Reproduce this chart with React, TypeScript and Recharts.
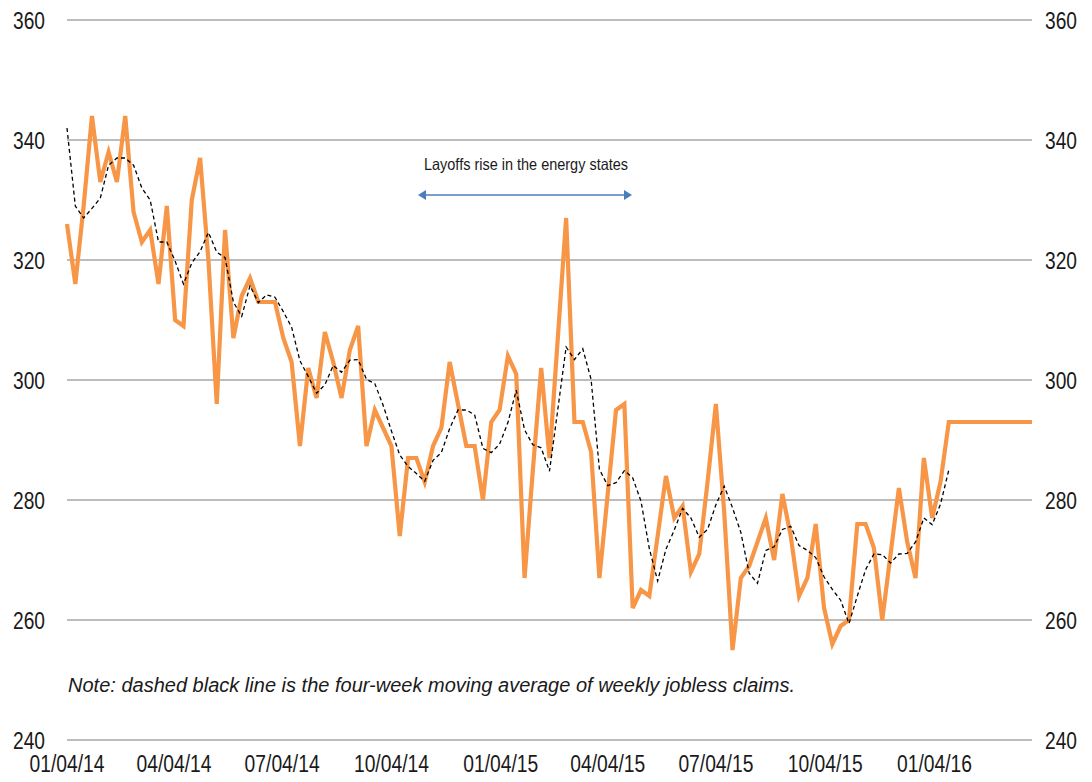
import React from 'react';
import { LineChart, Line, XAxis, YAxis, CartesianGrid } from 'recharts';

// quarterly date ticks, mm/dd/yy
const tickLabels = [
  '01/04/14', '04/04/14', '07/04/14', '10/04/14',
  '01/04/15', '04/04/15', '07/04/15', '10/04/15', '01/04/16',
];
const yTicks = [240, 260, 280, 300, 320, 340, 360];

// weekly initial jobless claims (thousands), week ending 01/04/14 onward
const claims = [
  326, 316, 329, 344, 333, 338, 333, 344, 328, 323,
  325, 316, 329, 310, 309, 330, 337, 320, 296, 325,
  307, 314, 317, 313, 313, 313, 307, 303, 289, 302,
  297, 308, 303, 297, 305, 309, 289, 295, 292, 289,
  274, 287, 287, 283, 289, 292, 303, 296, 289, 289,
  280, 293, 295, 304, 301, 267, 285, 302, 287, 307,
  327, 293, 293, 288, 267, 281, 295, 296, 262, 265,
  264, 274, 284, 277, 279, 268, 271, 283, 296, 278,
  255, 267, 269, 273, 277, 270, 281, 274, 264, 267,
  276, 262, 256, 259, 260, 276, 276, 272, 260, 271,
  282, 273, 267, 287, 277, 283, 293, 293, 293, 293,
  293, 293, 293, 293, 293, 293, 293,
];

// four-week moving average
const movingAvg = [
  342, 329, 327, 328.6, 330.3, 335.8, 337, 337, 335.8, 332,
  330, 323, 323, 319.8, 316, 319.5, 321.4, 324.6, 321.3, 320.4,
  313, 310.6, 315.7, 312.9, 314.2, 313.8, 311.4, 308.8, 303.2, 300.6,
  297.8, 299.2, 302.4, 301.3, 303.3, 303.4, 300.1, 299.4, 295.8, 291.5,
  287.5, 285.6, 284.4, 283.1, 286.6, 287.9, 291.9, 295, 295, 294.2,
  288.6, 287.9, 289.3, 292.9, 298.3, 291.7, 289.2, 288.7, 284.8, 295.1,
  305.5, 303.4, 305.2, 300.1, 285.1, 282.4, 282.9, 284.9, 283.7, 279.8,
  271.9, 266.5, 271.8, 275, 278.6, 277, 273.8, 275.1, 279.2, 282.3,
  278.7, 274.6, 267.8, 266.1, 271.6, 272.2, 275.1, 275.6, 272.4, 271.6,
  270.4, 267.2, 265.1, 263.3, 259.4, 264, 268.4, 271, 270.9, 269.5,
  271, 271.1, 273, 277, 275.9, 279.3, 285,
];

const DAY = 86400000;
const firstWeek = Date.UTC(2014, 0, 4);

const parseLabel = (s: string) => {
  const [m, d, y] = s.split('/').map(Number);
  return Date.UTC(2000 + y, m - 1, d);
};
const pad = (n: number) => String(n).padStart(2, '0');
const formatDate = (t: number) => {
  const d = new Date(t);
  return `${pad(d.getUTCMonth() + 1)}/${pad(d.getUTCDate())}/${pad(d.getUTCFullYear() % 100)}`;
};

const xTicks = tickLabels.map(parseLabel);

const data = claims.map((v, i) => ({
  t: firstWeek + i * 7 * DAY,
  claims: v,
  avg: i < movingAvg.length ? movingAvg[i] : null,
}));

// no Arial Narrow here, so squeeze Liberation Sans to the narrow widths
const FONT = '"Liberation Sans", Arial, sans-serif';
const TEXT = '#1a1a1a';

const DateTick = (props: any) => {
  const { x, y, payload } = props;
  return (
    <text x={x} y={y} dy="0.71em" textAnchor="middle" fontSize={23} fill={TEXT} fontFamily={FONT}
      textLength={75} lengthAdjust="spacingAndGlyphs">
      {formatDate(payload.value)}
    </text>
  );
};

const ValueTick = (props: any) => {
  const { x, y, payload, textAnchor } = props;
  return (
    <text x={x} y={y} dy="0.355em" textAnchor={textAnchor} fontSize={24} fill={TEXT} fontFamily={FONT}
      textLength={32} lengthAdjust="spacingAndGlyphs">
      {payload.value}
    </text>
  );
};

export default function App() {
  return (
    <div style={{ position: 'absolute', left: 0, top: 0, width: 1092, height: 782, background: '#fff', fontFamily: FONT }}>
      <LineChart width={1092} height={782} data={data} margin={{ top: 20, right: 0, bottom: 0, left: 0 }}>
        <CartesianGrid yAxisId="left" horizontal vertical={false} stroke="#a6a6a6" strokeWidth={1.5} />
        <XAxis
          dataKey="t"
          type="number"
          domain={[data[0].t, data[data.length - 1].t]}
          ticks={xTicks}
          interval={0}
          height={42}
          axisLine={false}
          tickLine={false}
          tickSize={0}
          tickMargin={16}
          tick={<DateTick />}
        />
        <YAxis
          yAxisId="left"
          orientation="left"
          domain={[240, 360]}
          ticks={yTicks}
          width={67}
          axisLine={false}
          tickLine={false}
          tickSize={0}
          tickMargin={22}
          tick={<ValueTick />}
        />
        <YAxis
          yAxisId="right"
          orientation="right"
          domain={[240, 360]}
          ticks={yTicks}
          width={60}
          axisLine={false}
          tickLine={false}
          tickSize={0}
          tickMargin={13}
          tick={<ValueTick />}
        />
        <Line
          yAxisId="left"
          dataKey="claims"
          stroke="#f79646"
          strokeWidth={4.2}
          dot={false}
          isAnimationActive={false}
        />
        <Line
          yAxisId="right"
          dataKey="avg"
          stroke="#000"
          strokeWidth={1.3}
          strokeDasharray="4 3"
          dot={false}
          isAnimationActive={false}
        />
      </LineChart>
      <svg width={1092} height={782} style={{ position: 'absolute', left: 0, top: 0, pointerEvents: 'none' }}>
        <text x={424} y={170} fontSize={16.5} fill={TEXT} fontFamily={FONT}
          textLength={204} lengthAdjust="spacingAndGlyphs">
          Layoffs rise in the energy states
        </text>
        <line x1={425} y1={195} x2={625} y2={195} stroke="#4a7ebb" strokeWidth={1.5} />
        <polygon points="418,195 426,190 426,200" fill="#4a7ebb" />
        <polygon points="632,195 624,190 624,200" fill="#4a7ebb" />
        <text x={68} y={692} fontSize={20} fontStyle="italic" fill={TEXT} fontFamily={FONT}
          textLength={727} lengthAdjust="spacingAndGlyphs">
          Note: dashed black line is the four-week moving average of weekly jobless claims.
        </text>
      </svg>
    </div>
  );
}
